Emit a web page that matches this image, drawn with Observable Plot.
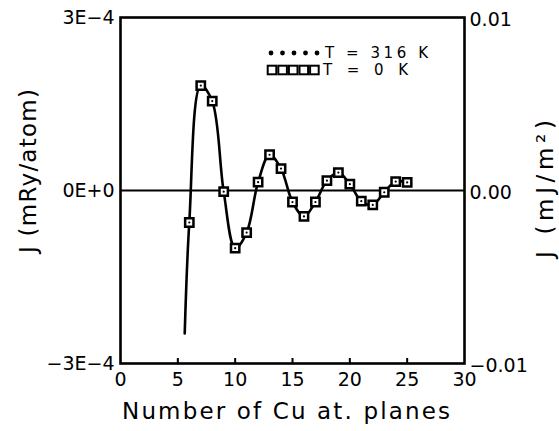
<!DOCTYPE html>
<html>
<head>
<meta charset="utf-8">
<script src="https://cdn.jsdelivr.net/npm/d3@7"></script>
<script src="https://cdn.jsdelivr.net/npm/@observablehq/plot@0.6"></script>
<style>
  html, body { margin: 0; padding: 0; background: #fff; }
  #chart svg { display: block; }
</style>
</head>
<body>
<div id="chart"></div>
<script>
// Interlayer exchange coupling J versus Cu spacer thickness (atomic planes)
const planes = [6, 7, 8, 9, 10, 11, 12, 13, 14, 15, 16, 17, 18, 19, 20, 21, 22, 23, 24, 25];
// J in mRy/atom, T = 0 K
const j0K = [-0.555e-4, 1.82e-4, 1.55e-4, -0.02e-4, -1.0e-4, -0.73e-4, 0.145e-4, 0.62e-4, 0.38e-4, -0.2e-4,
             -0.45e-4, -0.2e-4, 0.17e-4, 0.31e-4, 0.11e-4, -0.185e-4, -0.25e-4, -0.03e-4, 0.155e-4, 0.14e-4];
// J in mRy/atom, T = 316 K (coincides with the 0 K values on this scale)
const j316K = [-0.555e-4, 1.82e-4, 1.55e-4, -0.02e-4, -1.0e-4, -0.73e-4, 0.145e-4, 0.62e-4, 0.38e-4, -0.2e-4,
               -0.45e-4, -0.2e-4, 0.17e-4, 0.31e-4, 0.11e-4, -0.185e-4, -0.25e-4, -0.03e-4, 0.155e-4, 0.14e-4];
// smooth curve through the computed values, starting below the first plane
const curveStartPlane = [5.6];
const curveStartJ = [-2.48e-4];

const xTickValues = [0, 5, 10, 15, 20, 25, 30];
const xTickMarks = [5, 10, 15, 20, 25];
const yTickValues = [-3e-4, 0, 3e-4];
const leftTickLabels = ["\u22123E\u22124", "0E+0", "3E\u22124"];
const rightTickLabels = ["\u22120.01", "0.00", "0.01"];
const legendLabels = ["T = 316 K", "T = 0 K"];
const xTitle = "Number of Cu at. planes";
const yTitleLeft = "J (mRy/atom)";
const yTitleRight = "J (mJ/m\u00B2)";

const pts0K = planes.map((p, i) => ({p, j: j0K[i]}));
const pts316K = planes.map((p, i) => ({p, j: j316K[i]}));
const curvePts = curveStartPlane.map((p, i) => ({p, j: curveStartJ[i]})).concat(pts316K);

const W = 559, H = 431;
const mL = 120, mR = 95, mT = 17, mB = 68;
const innerH = H - mT - mB;

const chart = Plot.plot({
  width: W,
  height: H,
  marginLeft: mL,
  marginRight: mR,
  marginTop: mT,
  marginBottom: mB,
  style: {fontFamily: "DejaVu Sans", fontSize: "19px", color: "#000", background: "#fff", overflow: "visible"},
  x: {domain: [0, 30]},
  y: {domain: [-3e-4, 3e-4]},
  marks: [
    Plot.ruleY([0], {stroke: "#000", strokeWidth: 2}),
    Plot.line(curvePts, {x: "p", y: "j", curve: "catmull-rom", stroke: "#000", strokeWidth: 2.6}),
    Plot.dot(pts0K, {x: "p", y: "j", symbol: "square", r: 4.7, stroke: "#000", strokeWidth: 2.5, fill: "#fff"}),
    Plot.dot(pts316K, {x: "p", y: "j", r: 1.1, fill: "#000", stroke: null}),
    Plot.tickX(xTickMarks, {x: d => d, insetTop: innerH - 5, stroke: "#000", strokeWidth: 2}),
    Plot.axisX(xTickValues, {tickSize: 0, tickPadding: 9, fontSize: 19, label: null}),
    Plot.axisY(yTickValues, {anchor: "left", tickSize: 0, tickPadding: 6, fontSize: 19, label: null,
      tickFormat: d => leftTickLabels[yTickValues.indexOf(d)]}),
    Plot.axisY(yTickValues, {anchor: "right", tickSize: 0, tickPadding: 5, fontSize: 19, label: null, dy: 2,
      tickFormat: d => rightTickLabels[yTickValues.indexOf(d)]}),
    Plot.frame({stroke: "#000", strokeWidth: 2.6})
  ]
});

const svg = d3.select(chart);

// axis titles, stretched to the wide lettering of the figure
function addTitle(str, x, y, size, len, rotate) {
  svg.append("text")
    .attr("transform", `translate(${x},${y})` + (rotate ? ` rotate(${rotate})` : ""))
    .attr("text-anchor", "middle")
    .attr("dy", "0.35em")
    .attr("font-family", "DejaVu Sans")
    .attr("font-size", size)
    .attr("fill", "#000")
    .attr("textLength", len)
    .attr("lengthAdjust", "spacing")
    .text(str);
}
addTitle(xTitle, 286, 411, 23, 328, 0);
addTitle(yTitleLeft, 28, 171, 23, 164, -90);
addTitle(yTitleRight, 545, 189, 23, 138, -90);

// legend in the upper right of the frame
const lg = svg.append("g").attr("class", "legend");
const dotX = d3.range(5).map(i => 271 + i * 11.5);
const boxX = d3.range(5).map(i => 272 + i * 10.6);
lg.selectAll("circle").data(dotX).join("circle")
  .attr("cx", d => d).attr("cy", 53).attr("r", 2.4).attr("fill", "#000");
lg.selectAll("rect").data(boxX).join("rect")
  .attr("x", d => d - 4.3).attr("y", 65.7).attr("width", 8.6).attr("height", 8.6)
  .attr("fill", "#fff").attr("stroke", "#000").attr("stroke-width", 2);
lg.selectAll("text").data(legendLabels).join("text")
  .attr("x", (d, i) => i === 0 ? 325 : 323)
  .attr("y", (d, i) => i === 0 ? 53 : 70)
  .attr("dy", "0.36em")
  .attr("text-anchor", "start")
  .attr("font-family", "DejaVu Sans").attr("font-size", 15).attr("fill", "#000")
  .attr("textLength", (d, i) => i === 0 ? 103 : 85)
  .attr("lengthAdjust", "spacing")
  .text(d => d);

document.getElementById("chart").appendChild(chart);
</script>
</body>
</html>
